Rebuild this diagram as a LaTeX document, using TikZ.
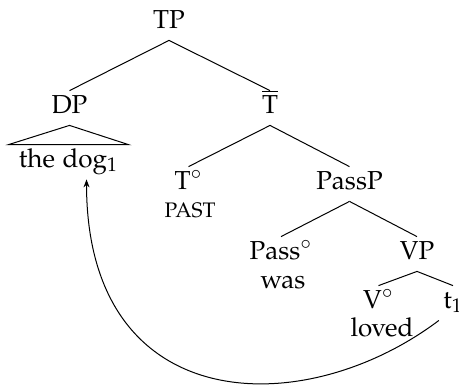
\documentclass[tikz,border=0pt]{standalone}
\usepackage[T1]{fontenc}
\usepackage[sc]{mathpazo}
\usetikzlibrary{arrows.meta}
\tikzset{
  lab/.style={anchor=base, inner xsep=2pt, inner ysep=2pt, text height=9pt, text depth=4pt},
  leaf/.style={lab, text depth=0pt},
  sub/.style={anchor=base, inner sep=1pt},
  edge/.style={line width=0.5pt},
  mv/.style={line width=0.5pt, -{Stealth[length=4pt,width=3pt]}}
}
\begin{document}
\begin{tikzpicture}[x=0.5pt, y=0.5pt, font=\fontsize{13}{15}\selectfont]
\useasboundingbox (0,0) rectangle (459,388);
\node[lab] (TP) at (169,360) {TP};
\node[lab] (DP) at (69.5,275) {DP};
\node[lab] (Tbar) at (270,275) {$\overline{\mbox{T}}$};
\node[lab] (dog) at (68.5,221) {the dog$_1$};
\node[leaf] (T) at (188.5,199) {T$^\circ$};
\node[sub, font=\fontsize{10.5}{12}\selectfont] (past) at (190,171) {PAST};
\node[lab] (PassP) at (349.5,199) {PassP};
\node[leaf] (Pass) at (281,129) {Pass$^\circ$};
\node[sub] (was) at (283,100) {was};
\node[lab] (VP) at (417,129) {VP};
\node[leaf] (V) at (378.5,80) {V$^\circ$};
\node[sub] (loved) at (382,52) {loved};
\node[lab] (t1) at (453,80) {t$_1$};
\draw[edge] (TP.south) -- (DP.north);
\draw[edge] (TP.south) -- (Tbar.north);
\draw[edge] (DP.south) -- ([xshift=-3pt]dog.north west) -- ([xshift=3pt]dog.north east) -- cycle;
\draw[edge] (Tbar.south) -- (T.north);
\draw[edge] (Tbar.south) -- (PassP.north);
\draw[edge] (PassP.south) -- (Pass.north);
\draw[edge] (PassP.south) -- (VP.north);
\draw[edge] (VP.south) -- (V.north);
\draw[edge] (VP.south) -- (t1.north);
\draw[mv] (t1.south west) to[out=-143, in=-90, out looseness=1.15, in looseness=1.6] (dog.-44);
\end{tikzpicture}
\end{document}
